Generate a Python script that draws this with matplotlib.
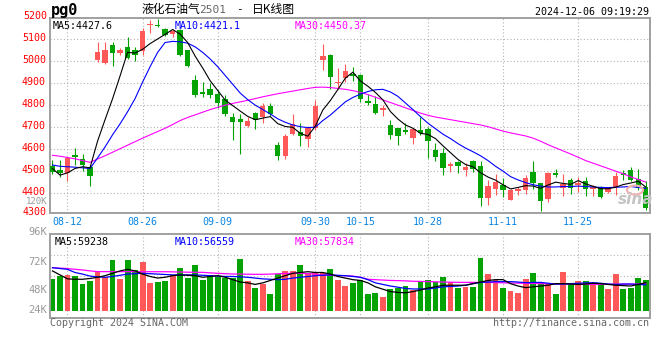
# LPG 2501 daily candlestick chart (Sina style)

import matplotlib.pyplot as plt
from matplotlib.patches import Ellipse
from matplotlib.transforms import ScaledTranslation

dates = ['08-08', '08-09',
         '08-12', '08-13', '08-14', '08-15', '08-16',
         '08-19', '08-20', '08-21', '08-22', '08-23',
         '08-26', '08-27', '08-28', '08-29', '08-30',
         '09-02', '09-03', '09-04', '09-05', '09-06',
         '09-09', '09-10', '09-11', '09-12', '09-13',
         '09-18', '09-19', '09-20',
         '09-23', '09-24', '09-25', '09-26', '09-27',
         '09-30',
         '10-08', '10-09', '10-10', '10-11',
         '10-14', '10-15', '10-16', '10-17', '10-18',
         '10-21', '10-22', '10-23', '10-24', '10-25',
         '10-28', '10-29', '10-30', '10-31', '11-01',
         '11-04', '11-05', '11-06', '11-07', '11-08',
         '11-11', '11-12', '11-13', '11-14', '11-15',
         '11-18', '11-19', '11-20', '11-21', '11-22',
         '11-25', '11-26', '11-27', '11-28', '11-29',
         '12-02', '12-03', '12-04', '12-05', '12-06']

opens = [4525, 4505, 4490, 4575, 4555, 4518, 5005, 4990, 5073, 5037,
         5066, 5052, 5045, 5163, 5166, 5145, 5122, 5142, 5050, 4915,
         4862, 4872, 4850, 4830, 4745, 4735, 4703, 4765, 4745, 4798,
         4620, 4570, 4667, 4677, 4648, 4697, 5005, 5030, 4903, 4925,
         4942, 4935, 4820, 4807, 4779, 4710, 4695, 4685, 4652, 4688,
         4693, 4595, 4582, 4524, 4543, 4507, 4544, 4524, 4378, 4420,
         4438, 4370, 4410, 4415, 4497, 4445, 4372, 4493, 4424, 4460,
         4435, 4455, 4421, 4428, 4405, 4426, 4490, 4507, 4462, 4430]
highs = [4550, 4550, 4565, 4605, 4578, 4530, 5085, 5085, 5088, 5060,
         5108, 5066, 5153, 5188, 5192, 5150, 5148, 5148, 5052, 4935,
         4905, 4903, 4870, 4845, 4765, 4760, 4745, 4770, 4808, 4810,
         4632, 4668, 4762, 4718, 4705, 4823, 5080, 5032, 4968, 4985,
         4975, 4942, 4850, 4840, 4802, 4733, 4698, 4717, 4692, 4748,
         4700, 4630, 4603, 4540, 4548, 4538, 4550, 4545, 4460, 4488,
         4468, 4420, 4430, 4482, 4545, 4448, 4495, 4508, 4485, 4470,
         4474, 4472, 4438, 4432, 4430, 4494, 4507, 4517, 4510, 4455]
lows = [4485, 4475, 4455, 4530, 4500, 4432, 4998, 4985, 4980, 5030,
        5008, 5000, 5028, 5127, 5155, 5115, 5112, 5022, 4975, 4838,
        4838, 4832, 4785, 4752, 4643, 4578, 4700, 4690, 4718, 4750,
        4550, 4553, 4665, 4615, 4612, 4685, 4962, 4875, 4872, 4907,
        4910, 4815, 4802, 4758, 4752, 4648, 4620, 4668, 4625, 4665,
        4560, 4545, 4482, 4495, 4493, 4478, 4498, 4340, 4345, 4392,
        4382, 4368, 4392, 4394, 4420, 4318, 4358, 4475, 4385, 4398,
        4406, 4385, 4385, 4378, 4400, 4392, 4458, 4455, 4415, 4322]
closes = [4494, 4490, 4562, 4566, 4530, 4480, 5044, 5052, 5039, 5052,
          5014, 5030, 5135, 5168, 5158, 5120, 5137, 5030, 4978, 4848,
          4850, 4848, 4810, 4758, 4725, 4725, 4727, 4733, 4795, 4758,
          4567, 4662, 4715, 4658, 4695, 4797, 5024, 4930, 4907, 4956,
          4931, 4828, 4810, 4764, 4789, 4663, 4658, 4677, 4690, 4673,
          4636, 4563, 4515, 4531, 4522, 4521, 4510, 4380, 4433, 4452,
          4413, 4416, 4418, 4469, 4444, 4362, 4492, 4483, 4440, 4424,
          4445, 4420, 4428, 4382, 4424, 4480, 4482, 4460, 4422, 4333]

ma5 = [4512, 4482, 4492, 4512, 4520, 4515, 4636, 4734, 4829, 4933,
       5040, 5037, 5054, 5080, 5101, 5122, 5144, 5123, 5085, 5023,
       4969, 4911, 4867, 4823, 4798, 4773, 4749, 4734, 4741, 4748,
       4716, 4703, 4699, 4672, 4659, 4705, 4778, 4821, 4871, 4923,
       4950, 4910, 4886, 4858, 4824, 4771, 4737, 4710, 4695, 4672,
       4667, 4648, 4615, 4584, 4553, 4530, 4520, 4493, 4473, 4459,
       4438, 4419, 4426, 4434, 4432, 4422, 4437, 4450, 4444, 4440,
       4457, 4442, 4431, 4420, 4420, 4427, 4439, 4446, 4454, 4428]
ma10 = [4528, 4522, 4520, 4518, 4515, 4512, 4560, 4610, 4665, 4715,
        4770, 4830, 4905, 4975, 5040, 5085, 5090, 5088, 5082, 5065,
        5040, 5010, 4975, 4935, 4895, 4855, 4825, 4800, 4780, 4760,
        4738, 4722, 4710, 4702, 4698, 4700, 4730, 4755, 4785, 4815,
        4835, 4850, 4862, 4870, 4872, 4860, 4840, 4810, 4780, 4748,
        4718, 4693, 4668, 4648, 4625, 4605, 4588, 4570, 4548, 4522,
        4500, 4475, 4460, 4448, 4438, 4432, 4428, 4428, 4430, 4430,
        4432, 4430, 4428, 4426, 4425, 4427, 4428, 4430, 4426, 4421]
ma30 = [4572, 4568, 4562, 4556, 4548, 4540, 4555, 4570, 4586, 4602,
        4618, 4634, 4650, 4665, 4680, 4695, 4712, 4730, 4744, 4756,
        4768, 4780, 4790, 4800, 4808, 4815, 4822, 4830, 4838, 4845,
        4852, 4858, 4864, 4870, 4876, 4881, 4882, 4880, 4876, 4872,
        4866, 4858, 4848, 4836, 4824, 4812, 4800, 4788, 4776, 4764,
        4754, 4746, 4740, 4734, 4728, 4722, 4716, 4710, 4702, 4692,
        4682, 4674, 4667, 4660, 4650, 4636, 4620, 4606, 4592, 4578,
        4563, 4548, 4536, 4524, 4512, 4500, 4488, 4474, 4462, 4450]

volumes = [63800, 68000, 68900, 67600, 57600, 61300, 73000, 66000, 87700, 63800,
           87700, 75200, 85600, 59000, 60500, 61300, 68500, 78000, 65000, 81400,
           62600, 68500, 65800, 65300, 65500, 89000, 61300, 52500, 57600, 45000,
           70100, 73300, 74100, 81400, 71800, 73200, 71800, 76400, 62800, 55200,
           59200, 63200, 45000, 46200, 41200, 51500, 52500, 55000, 49500, 60500,
           62200, 59700, 66300, 59500, 52900, 54200, 54200, 90700, 70100, 62600,
           52900, 49100, 46600, 63800, 71800, 59200, 57600, 45000, 73000, 59400,
           61300, 61300, 58200, 58400, 51300, 70100, 51300, 52900, 65000, 62600]
vol_ma5 = [74000, 69000, 64000, 63500, 63500, 64500, 66000, 68000, 71000, 74000,
           76000, 74000, 70000, 67000, 65000, 66000, 68000, 69000, 68500, 68000,
           66000, 67000, 68000, 66000, 63000, 60000, 59000, 57000, 59000, 62000,
           65000, 68000, 71000, 72000, 73000, 72000, 72000, 70000, 67000, 65000,
           63000, 62000, 59000, 54000, 51000, 48000, 47000, 46500, 48000, 50000,
           52500, 54000, 56000, 56000, 56000, 56000, 58000, 60000, 62000, 63000,
           63000, 58000, 55000, 53000, 54000, 55000, 56000, 58000, 58000, 57500,
           57000, 57500, 58500, 58000, 57000, 56000, 55500, 55000, 57000, 59238]
vol_ma10 = [78000, 77000, 76000, 72000, 70000, 67500, 66500, 66000, 67000, 68500,
            70000, 70500, 71000, 70500, 70000, 69500, 69000, 69000, 69000, 69000,
            68500, 68000, 67500, 67000, 67000, 66500, 66000, 65000, 64000, 63500,
            63000, 63500, 65000, 66000, 67000, 68000, 68500, 69000, 68500, 68000,
            67000, 66000, 63000, 59000, 57000, 55000, 53500, 52000, 51300, 51300,
            51300, 52500, 54000, 54500, 55000, 56000, 58000, 59500, 60000, 60500,
            60500, 60500, 60000, 59200, 59500, 59600, 58500, 57500, 57500, 58000,
            58400, 59000, 59200, 58500, 57500, 57000, 57500, 57500, 57000, 56559]
vol_ma30 = [78000, 77500, 77000, 76000, 75200, 74000, 73100, 73100, 73100, 73100,
            73100, 73100, 73000, 73000, 73000, 73000, 72800, 72600, 72400, 72200,
            72200, 71500, 71000, 70500, 70100, 70000, 69800, 69700, 69700, 70000,
            70400, 70800, 71000, 71000, 70500, 70000, 69000, 68500, 68000, 68000,
            67500, 66000, 63500, 63000, 62500, 62000, 61800, 61500, 61000, 60800,
            60600, 60300, 60000, 59800, 59600, 59600, 59600, 59600, 59600, 59400,
            59000, 58800, 58600, 58400, 58200, 58000, 57800, 57500, 57500, 57400,
            57300, 57200, 57100, 57100, 57200, 57300, 57400, 57500, 57600, 57834]

grid_dates = ['08-12', '08-26', '09-09', '09-30', '10-15', '10-28', '11-11', '11-25']
price_ticks = [4400, 4500, 4600, 4700, 4800, 4900, 5000, 5100]

RED = '#ff5858'
GREEN = '#02a302'
FRAME = '#a0a0a0'
GRID = '#b4b4b4'
MONO = 'DejaVu Sans Mono'
CJK = ['Noto Sans CJK SC', 'DejaVu Sans']

W, H = 660, 360


def fx(px):
    return px / W


def fy(py):
    return 1 - py / H


def dotted_grid(axis, xs, ys):
    for xv in xs:
        axis.axvline(xv, color=GRID, lw=0.8, ls=(0, (1, 2)), zorder=0)
    for yv in ys:
        axis.axhline(yv, color=GRID, lw=0.8, ls=(0, (1, 2)), zorder=0)


def frame(axis):
    for s in axis.spines.values():
        s.set_color(FRAME)
        s.set_linewidth(1.4)


fig = plt.figure(figsize=(6.6, 3.6), dpi=100)
fig.patch.set_facecolor('white')

ax = fig.add_axes([fx(50), fy(212.7), 599.5 / W, 194.4 / H])
axv = fig.add_axes([fx(50), fy(318.3), 599.5 / W, 84 / H])

x = list(range(len(dates)))
cols = [RED if c >= o else GREEN for o, c in zip(opens, closes)]
grid_x = [dates.index(d) for d in grid_dates]

# price panel
dotted_grid(ax, grid_x, price_ticks)
ax.vlines(x, lows, highs, colors=cols, lw=0.8, zorder=2)
ax.bar(x, [max(abs(c - o), 4) for o, c in zip(opens, closes)],
       bottom=[min(o, c) for o, c in zip(opens, closes)],
       width=0.72, color=cols, linewidth=0, zorder=3)
ax.plot(x, ma30, color='#ff00ff', lw=0.8, zorder=4)
ax.plot(x, ma10, color='#0000ff', lw=0.8, zorder=4)
ax.plot(x, ma5, color='black', lw=0.8, zorder=4)

ax.set_xlim(-0.33, 79.5)
ax.set_ylim(4311, 5195)
ax.set_yticks(price_ticks, [str(t) for t in price_ticks])
ax.set_xticks(grid_x, grid_dates)
ax.tick_params(axis='y', length=0, pad=3, labelsize=7.2, labelcolor='#ff0000')
ax.tick_params(axis='x', length=0, pad=3, labelsize=7.2, labelcolor='#0a84e0')
lift = ScaledTranslation(0, 2 / 100, fig.dpi_scale_trans)
for lab in ax.get_yticklabels():
    lab.set_family(MONO)
    lab.set_transform(lab.get_transform() + lift)
for lab in ax.get_xticklabels():
    lab.set_family(MONO)
frame(ax)

ax.text(0.005, 0.985, 'MA5:4427.6', transform=ax.transAxes, color='black',
        family=MONO, fontsize=7.2, va='top')
ax.text(0.2085, 0.985, 'MA10:4421.1', transform=ax.transAxes, color='#0000ff',
        family=MONO, fontsize=7.2, va='top')
ax.text(0.4085, 0.985, 'MA30:4450.37', transform=ax.transAxes, color='#ff00ff',
        family=MONO, fontsize=7.2, va='top')

# volume panel
dotted_grid(axv, grid_x, [])
for f in (0.25, 0.5, 0.75):
    axv.plot([0, 1], [f, f], transform=axv.transAxes, color=GRID, lw=0.8,
             ls=(0, (1, 2)), zorder=0)
axv.bar(x, [v - 24000 for v in volumes], bottom=24000, width=0.78,
        color=cols, linewidth=0, zorder=2)
axv.plot(x, vol_ma30, color='#ff00ff', lw=0.9, zorder=3)
axv.plot(x, vol_ma10, color='#0000ff', lw=0.9, zorder=3)
axv.plot(x, vol_ma5, color='black', lw=0.9, zorder=3)
axv.set_xlim(-0.33, 79.5)
axv.set_ylim(14450, 120000)
axv.set_xticks([])
axv.set_yticks([])
frame(axv)

axv.text(0.008, 0.97, 'MA5:59238', transform=axv.transAxes, color='black',
         family=MONO, fontsize=7.2, va='top')
axv.text(0.2085, 0.97, 'MA10:56559', transform=axv.transAxes, color='#0000ff',
         family=MONO, fontsize=7.2, va='top')
axv.text(0.4085, 0.97, 'MA30:57834', transform=axv.transAxes, color='#ff00ff',
         family=MONO, fontsize=7.2, va='top')

# left-hand labels that sit off the grid
fig.text(fx(47), fy(16), '5200', color='#ff0000', family=MONO, fontsize=7.2,
         ha='right', va='center')
fig.text(fx(47), fy(211.7), '4300', color='#ff0000', family=MONO, fontsize=7.2,
         ha='right', va='center')
fig.text(fx(47), fy(202), '120K', color='#9a9a9a', family=MONO, fontsize=6.5,
         ha='right', va='center')
for lab, py in [('96K', 231.7), ('72K', 261.7), ('48K', 290), ('24K', 310)]:
    fig.text(fx(47), fy(py), lab, color='#9a9a9a', family=MONO, fontsize=7.5,
             ha='right', va='center')

# header
fig.text(fx(51), fy(11), 'pg0', family=MONO, fontsize=11, fontweight='bold',
         va='center', color='black')
fig.text(fx(141), fy(9.5), '液化石油气', family=CJK, fontsize=8.5, va='center')
fig.text(fx(199), fy(10), '2501', family=MONO, fontsize=8, va='center', color='#666666')
fig.text(fx(236), fy(9.5), '-', family=MONO, fontsize=8, va='center')
fig.text(fx(252), fy(9.5), '日K线图', family=CJK, fontsize=8.5, va='center')
fig.text(fx(649), fy(12), '2024-12-06 09:19:29', family=MONO, fontsize=7.2,
         ha='right', va='center')

# footer
fig.text(fx(50), fy(323.5), 'Copyright 2024 SINA.COM', family=MONO, fontsize=7.2,
         color='#666666', va='center')
fig.text(fx(649), fy(323.5), 'http://finance.sina.com.cn', family=MONO, fontsize=7.2,
         color='#666666', ha='right', va='center')

# sina watermark
fig.patches.append(Ellipse((fx(635), fy(190)), 16 / W, 9 / H, transform=fig.transFigure,
                           fill=False, ec='#f3b0b0', lw=1.5))
fig.text(fx(636), fy(200), 'sina', family='DejaVu Sans', fontsize=11, fontweight='bold',
         style='italic', color='#c4c4c4', ha='center', va='center')

fig.savefig('out.png', dpi=100)
